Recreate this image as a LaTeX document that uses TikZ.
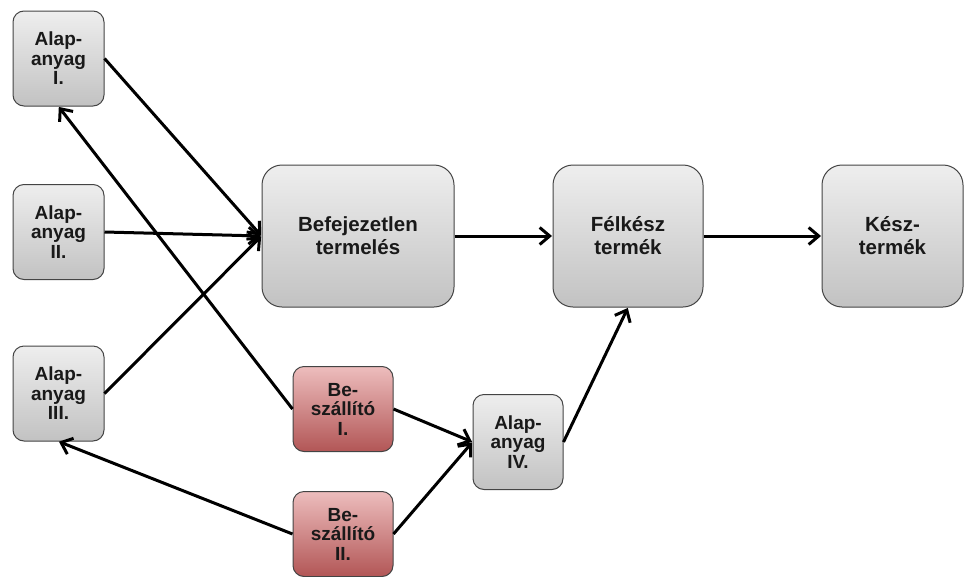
\documentclass[tikz,border=0pt]{standalone}
\usepackage{fontspec}
\setmainfont{Liberation Sans}
\usetikzlibrary{arrows.meta}
\definecolor{bordc}{HTML}{444444}
\definecolor{gtop}{HTML}{EEEEEE}
\definecolor{gbot}{HTML}{C2C2C2}
\definecolor{rtop}{HTML}{EDBDBD}
\definecolor{rbot}{HTML}{B25656}
\tikzset{
  small/.style={draw=bordc, line width=1pt, rounded corners=11pt, top color=gtop, bottom color=gbot,
    minimum width=91pt, minimum height=95pt, inner sep=0pt, align=center,
    font=\bfseries\fontsize{19}{19.5}\selectfont, text=black!90},
  big/.style={draw=bordc, line width=1pt, rounded corners=20pt, top color=gtop, bottom color=gbot,
    minimum height=142pt, inner sep=0pt, align=center,
    font=\bfseries\fontsize{20.5}{23}\selectfont, text=black!90},
  red/.style={small, top color=rtop, bottom color=rbot, minimum width=100pt, minimum height=85pt},
  iv/.style={small, minimum width=90pt, minimum height=95pt},
  conn/.style={line width=3pt, -{Straight Barb[length=10pt,width=17pt,line width=3pt]}, shorten >=0.5pt}
}
\begin{document}
\begin{tikzpicture}[x=1pt,y=-1pt]
\useasboundingbox (0,0) rectangle (964,576);
\node[small] (a1) at (58.5,58.5) {Alap-\\anyag\\I.};
\node[small] (a2) at (58.5,232) {Alap-\\anyag\\II.};
\node[small] (a3) at (58.5,393.5) {Alap-\\anyag\\III.};
\node[big, minimum width=192pt] (bef) at (358,236) {Befejezetlen\\termelés};
\node[big, minimum width=150pt] (fel) at (628,236) {Félkész\\termék};
\node[big, minimum width=141pt] (kesz) at (892.5,236) {Kész-\\termék};
\node[red] (b1) at (343,409) {Be-\\szállító\\I.};
\node[red] (b2) at (343,534) {Be-\\szállító\\II.};
\node[iv] (a4) at (518,442) {Alap-\\anyag\\IV.};
\draw[conn] (a1.east) -- (bef.west);
\draw[conn] (a2.east) -- (bef.west);
\draw[conn] (a3.east) -- (bef.west);
\draw[conn] (b1.west) -- (a1.south);
\draw[conn] (b2.west) -- (a3.south);
\draw[conn] (b1.east) -- (a4.west);
\draw[conn] (b2.east) -- (a4.west);
\draw[conn] (a4.east) -- (fel.south);
\draw[conn] (bef.east) -- (fel.west);
\draw[conn] (fel.east) -- (kesz.west);
\end{tikzpicture}
\end{document}
